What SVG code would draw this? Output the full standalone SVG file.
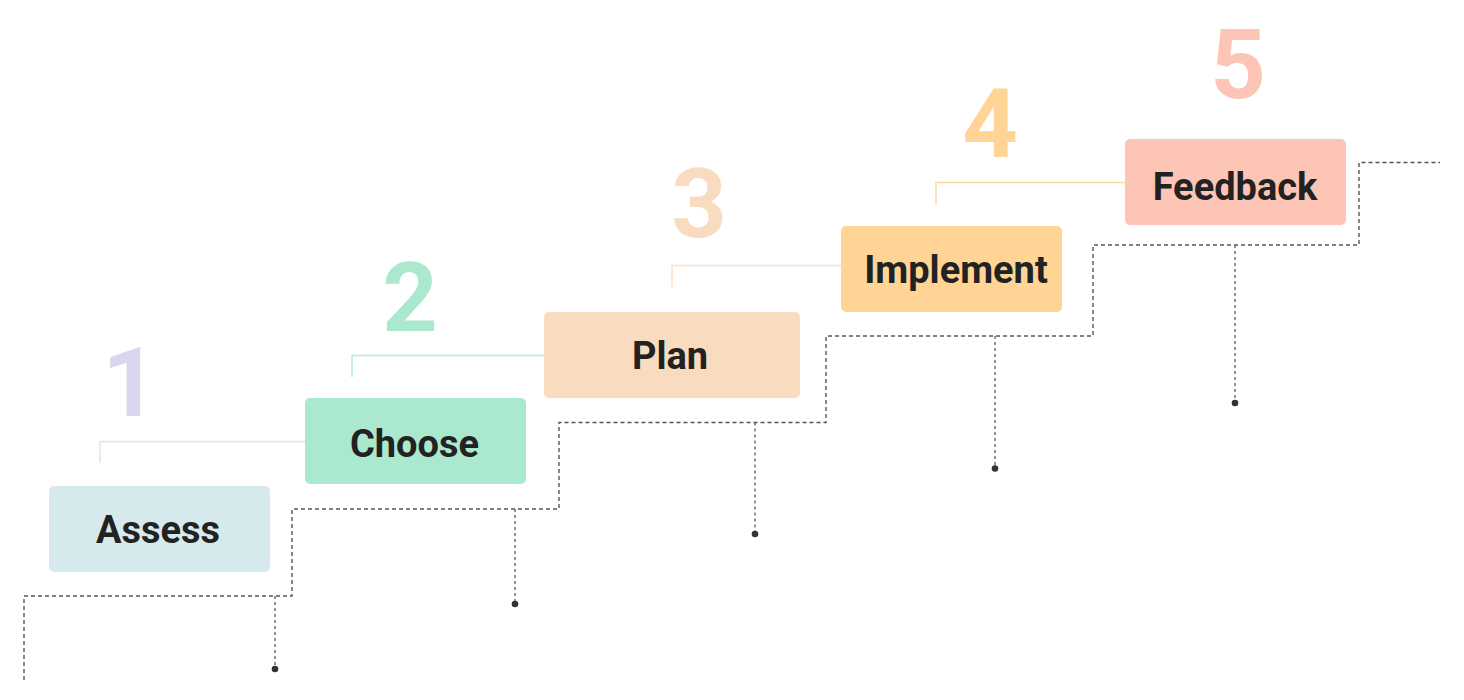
<svg xmlns="http://www.w3.org/2000/svg" width="1464" height="700" viewBox="0 0 1464 700">
<style>
.lbl{font-family:Roboto,"Liberation Sans",sans-serif;font-weight:700;font-size:38px;fill:#222;text-anchor:middle}
.num{font-family:Roboto,"Liberation Sans",sans-serif;font-weight:700;font-size:97px;text-anchor:middle}
.stair{fill:none;stroke:#555;stroke-width:1.4;stroke-dasharray:4 3}
.drop{fill:none;stroke:#666;stroke-width:1.4;stroke-dasharray:3 3}
.dot{fill:#333}
.br{fill:none;stroke-width:1.5}
</style>
<rect width="1464" height="700" fill="#fff"/>
<g id="connectors">
<path class="stair" d="M24,680 V596 H292 V509 H559 V422.5 H826 V336 H1093 V245 H1359 V162.5 H1440"/>
<path class="drop" d="M275,596 V669"/><circle class="dot" cx="275" cy="669" r="3.3"/>
<path class="drop" d="M515,509 V604"/><circle class="dot" cx="515" cy="604" r="3.3"/>
<path class="drop" d="M755,422.5 V534"/><circle class="dot" cx="755" cy="534" r="3.3"/>
<path class="drop" d="M995,336 V468.5"/><circle class="dot" cx="995" cy="468.5" r="3.3"/>
<path class="drop" d="M1235,245 V403"/><circle class="dot" cx="1235" cy="403" r="3.3"/>
<path class="br" stroke="#e2e0f6" d="M100,463 V441.5 H305"/>
<path class="br" stroke="#b5ecd6" d="M352,377 V355.5 H544"/>
<path class="br" stroke="#fae0c6" d="M672,287 V265.5 H841"/>
<path class="br" stroke="#ffd9a0" d="M936,204 V182.5 H1125"/>
</g>
<g id="step1">
<text class="num" x="130" y="416" fill="#d9d7f0">1</text>
<rect x="49" y="486" width="221" height="86" rx="5" fill="#d6eaed"/>
<text class="lbl" x="158" y="542.5">Assess</text>
</g>
<g id="step2">
<text class="num" x="410" y="331" fill="#abe9cf">2</text>
<rect x="305" y="398" width="221" height="86" rx="5" fill="#abe9cf"/>
<text class="lbl" x="414.5" y="456.5">Choose</text>
</g>
<g id="step3">
<text class="num" x="699" y="236.5" fill="#f9dcbf">3</text>
<rect x="544" y="312" width="256" height="86" rx="5" fill="#f9dcbf"/>
<text class="lbl" x="670" y="368.5">Plan</text>
</g>
<g id="step4">
<text class="num" x="990" y="157" fill="#ffd494">4</text>
<rect x="841" y="226" width="221" height="86" rx="5" fill="#ffd494"/>
<text class="lbl" x="956" y="282.5">Implement</text>
</g>
<g id="step5">
<text class="num" x="1238" y="97.5" fill="#fdc5b6">5</text>
<rect x="1125" y="139" width="221" height="86" rx="5" fill="#fdc5b6"/>
<text class="lbl" x="1235" y="200">Feedback</text>
</g>
</svg>
